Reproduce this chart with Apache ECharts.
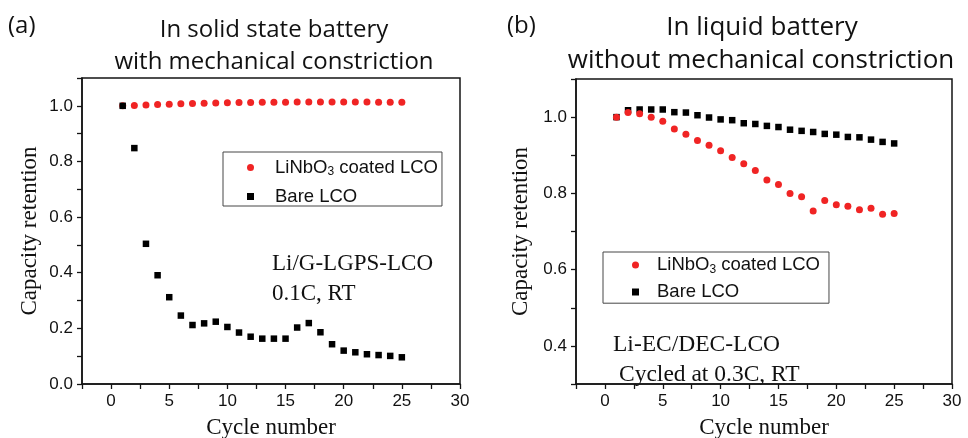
<!DOCTYPE html>
<html>
<head>
<meta charset="utf-8">
<script src="https://cdn.jsdelivr.net/npm/echarts@6/dist/echarts.min.js"></script>
<style>
html,body{margin:0;padding:0;background:#fff;}
#c{width:968px;height:438px;}
</style>
</head>
<body>
<div id="c"></div>
<script>
// ---- data ----
var cycles = [1,2,3,4,5,6,7,8,9,10,11,12,13,14,15,16,17,18,19,20,21,22,23,24,25];
var solidCoated = [1.000,1.001,1.003,1.005,1.006,1.007,1.008,1.009,1.010,1.011,1.012,1.012,1.013,1.013,1.013,1.014,1.014,1.014,1.014,1.014,1.014,1.014,1.013,1.013,1.013];
var solidBare = [1.000,0.848,0.504,0.391,0.312,0.246,0.212,0.218,0.224,0.205,0.185,0.170,0.163,0.163,0.163,0.203,0.219,0.186,0.143,0.120,0.114,0.107,0.104,0.101,0.096];
var liquidCoated = [1.000,1.012,1.009,1.000,0.989,0.969,0.955,0.939,0.926,0.912,0.894,0.878,0.860,0.835,0.823,0.800,0.791,0.754,0.781,0.770,0.766,0.757,0.761,0.745,0.747];
var liquidBare = [1.000,1.018,1.020,1.020,1.020,1.013,1.012,1.005,0.999,0.994,0.992,0.984,0.982,0.977,0.974,0.967,0.964,0.961,0.956,0.954,0.948,0.947,0.941,0.935,0.931];
var xTickLabels = [0,5,10,15,20,25,30];
var solidYTicks = [0.0,0.2,0.4,0.6,0.8,1.0];
var liquidYTicks = [0.4,0.6,0.8,1.0];
var nameCoated = 'LiNbO3 coated LCO';
var nameBare = 'Bare LCO';

function pairs(xs, ys){ return xs.map(function(x,i){ return [x, ys[i]]; }); }

var RED = '#f02424';
var BLK = '#000000';
var LINE = 'rgb(20,20,20)';
var labelFont = {fontFamily:'Liberation Sans', fontSize:17, color:'#111'};
var nameFont = {fontFamily:'Liberation Serif', fontSize:23, color:'#111'};

function mainX(gi){
  return {
    type:'value', gridIndex:gi, min:-2.5, max:30, interval:2.5, position:'bottom',
    name:'Cycle number', nameLocation:'middle', nameGap:32, nameTextStyle:nameFont,
    axisLine:{show:true, onZero:false, lineStyle:{color:LINE, width:1.5}},
    axisTick:{show:true, inside:false, length:5, lineStyle:{color:LINE, width:1.3}},
    axisLabel:{customValues:xTickLabels, margin:9, formatter:function(v){return String(Math.round(v));}, fontFamily:labelFont.fontFamily, fontSize:labelFont.fontSize, color:labelFont.color},
    splitLine:{show:false}
  };
}
function mainY(gi, min, ticks, gap){
  return {
    type:'value', gridIndex:gi, min:min, max:1.1, interval:0.1, position:'left',
    name:'Capacity retention', nameLocation:'middle', nameGap:gap, nameRotate:90, nameTextStyle:nameFont,
    axisLine:{show:true, onZero:false, lineStyle:{color:LINE, width:1.5}},
    axisTick:{show:true, inside:false, length:5, lineStyle:{color:LINE, width:1.3}},
    axisLabel:{customValues:ticks, margin:9, formatter:function(v){return v.toFixed(1);}, fontFamily:labelFont.fontFamily, fontSize:labelFont.fontSize, color:labelFont.color},
    splitLine:{show:false}
  };
}

function legendFmt(){
  return function(name){
    if (name === nameCoated) return '{p|}{a|LiNbO}{s|3}{a| coated LCO}';
    return '{p|}{a|' + name + '}';
  };
}
function legendRich(padW){
  return {
    p:{width:padW, height:10},
    a:{fontFamily:'Liberation Sans', fontSize:18.5, color:'#111', lineHeight:21},
    s:{fontFamily:'Liberation Sans', fontSize:12, color:'#111', lineHeight:10, verticalAlign:'bottom'}
  };
}

var chart = echarts.init(document.getElementById('c'), null, {renderer:'canvas'});
chart.setOption({
  animation:false,
  backgroundColor:'#fff',
  grid:[
    {left:82, top:78, width:378, height:306, show:true, borderColor:LINE, borderWidth:1.5, outerBoundsMode:'none', containLabel:false},
    {left:576, top:79, width:376, height:305, show:true, borderColor:LINE, borderWidth:1.5, outerBoundsMode:'none', containLabel:false}
  ],
  xAxis:[mainX(0), mainX(1)],
  yAxis:[mainY(0, 0, solidYTicks, 41), mainY(1, 0.3, liquidYTicks, 44)],
  legend:[
    {orient:'vertical', left:223, top:152, padding:[6,4,0,24], itemGap:9, itemWidth:7, itemHeight:7,
     borderColor:'rgb(70,70,70)', borderWidth:1, selectedMode:false,
     data:[{name:nameCoated, icon:'circle'},{name:nameBare, icon:'rect'}],
     formatter:legendFmt(), textStyle:{rich:legendRich(16)}},
    {orient:'vertical', left:603, top:252, padding:[3.5,9,1.7,29], itemGap:7, itemWidth:7, itemHeight:7,
     borderColor:'rgb(70,70,70)', borderWidth:1, selectedMode:false,
     data:[{name:nameCoated, icon:'circle'},{name:nameBare, icon:'rect'}],
     formatter:legendFmt(), textStyle:{rich:legendRich(13)}}
  ],
  series:[
    {type:'scatter', name:nameCoated, xAxisIndex:0, yAxisIndex:0, symbol:'circle', symbolSize:7, itemStyle:{color:RED, opacity:1}, data:pairs(cycles, solidCoated)},
    {type:'scatter', name:nameBare, xAxisIndex:0, yAxisIndex:0, symbol:'rect', symbolSize:6.5, itemStyle:{color:BLK, opacity:1}, data:pairs(cycles, solidBare)},
    {type:'scatter', name:nameBare, xAxisIndex:1, yAxisIndex:1, symbol:'rect', symbolSize:6.5, itemStyle:{color:BLK, opacity:1}, data:pairs(cycles, liquidBare)},
    {type:'scatter', name:nameCoated, xAxisIndex:1, yAxisIndex:1, symbol:'circle', symbolSize:7, itemStyle:{color:RED, opacity:1}, data:pairs(cycles, liquidCoated)}
  ],
  graphic:[
    {type:'text', x:8, y:26, style:{text:'(a)', font:'24px "Open Sans"', fill:'#111', align:'left', verticalAlign:'middle'}},
    {type:'text', x:274, y:30, style:{text:'In solid state battery', font:'24px "Open Sans"', fill:'#111', align:'center', verticalAlign:'middle'}},
    {type:'text', x:274, y:62, style:{text:'with mechanical constriction', font:'24px "Open Sans"', fill:'#111', align:'center', verticalAlign:'middle'}},
    {type:'text', x:507, y:26, style:{text:'(b)', font:'24px "Open Sans"', fill:'#111', align:'left', verticalAlign:'middle'}},
    {type:'text', x:762, y:28, style:{text:'In liquid battery', font:'26px "Open Sans"', fill:'#111', align:'center', verticalAlign:'middle'}},
    {type:'text', x:761, y:61, style:{text:'without mechanical constriction', font:'26px "Open Sans"', fill:'#111', align:'center', verticalAlign:'middle'}},
    {type:'text', x:272, y:252, style:{text:'Li/G-LGPS-LCO', font:'23px "Liberation Serif"', fill:'#111', align:'left', verticalAlign:'alphabetic'}},
    {type:'text', x:272, y:282, style:{text:'0.1C, RT', font:'23px "Liberation Serif"', fill:'#111', align:'left', verticalAlign:'alphabetic'}},
    {type:'text', x:613, y:333, style:{text:'Li-EC/DEC-LCO', font:'23.5px "Liberation Serif"', fill:'#111', align:'left', verticalAlign:'alphabetic'}},
    {type:'text', x:619, y:363, style:{text:'Cycled at 0.3C, RT', font:'23.5px "Liberation Serif"', fill:'#111', align:'left', verticalAlign:'alphabetic'}}
  ]
});
</script>
</body>
</html>
